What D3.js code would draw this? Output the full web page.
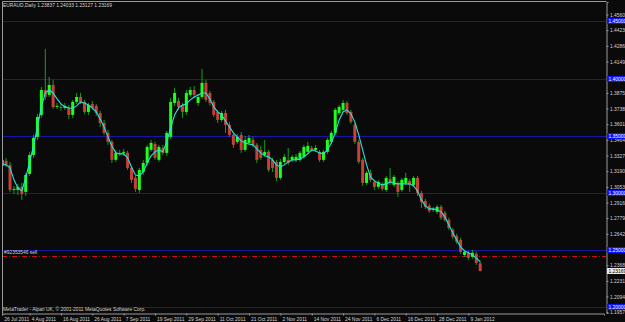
<!DOCTYPE html>
<html>
<head>
<meta charset="utf-8">
<script src="https://cdn.jsdelivr.net/npm/d3@7"></script>
<style>
  html, body { margin: 0; padding: 0; background: #0a0a0a; overflow: hidden; }
  svg { display: block; }
  text { font-family: "Liberation Sans", "DejaVu Sans", sans-serif; font-size: 4.9px; fill: #d4d4d4; }
</style>
</head>
<body>
<svg id="chart" width="625" height="322"></svg>
<script>
// EURAUD daily bars, 26 Jul 2011 .. 12 Jan 2012
var openP = [1.3236,1.3280,1.3245,1.3026,1.3026,1.3053,1.3009,1.3166,1.3332,1.3490,
  1.3682,1.3900,1.3857,1.3944,1.3752,1.3752,1.3743,1.3743,1.3682,1.3796,
  1.3839,1.3796,1.3708,1.3778,1.3761,1.3699,1.3612,1.3525,1.3446,1.3289,
  1.3350,1.3350,1.3350,1.3219,1.3131,1.3026,1.3184,1.3262,1.3376,1.3428,
  1.3289,1.3393,1.3350,1.3490,1.3787,1.3804,1.3769,1.3708,1.3857,1.3900,
  1.3787,1.3839,1.3962,1.3874,1.3796,1.3708,1.3638,1.3699,1.3595,1.3507,
  1.3446,1.3507,1.3376,1.3437,1.3463,1.3420,1.3376,1.3332,1.3359,1.3289,
  1.3271,1.3131,1.3271,1.3289,1.3289,1.3289,1.3289,1.3315,1.3359,1.3393,
  1.3376,1.3359,1.3289,1.3359,1.3446,1.3525,1.3699,1.3726,1.3787,1.3708,
  1.3595,1.3446,1.3289,1.3087,1.3175,1.3096,1.3053,1.3079,1.3026,1.3122,
  1.3070,1.3087,1.3026,1.3087,1.3105,1.3070,1.3131,1.3000,1.2930,1.2887,
  1.2852,1.2834,1.2878,1.2825,1.2764,1.2677,1.2624,1.2589,1.2458,1.2476,
  1.2441,1.2467,1.23837];
var highP = [1.3315,1.3306,1.3271,1.3061,1.3079,1.3087,1.3175,1.3359,1.3507,1.3691,
  1.3927,1.4259,1.4014,1.3988,1.3787,1.3778,1.3787,1.3769,1.3813,1.3874,
  1.3874,1.3813,1.3787,1.3804,1.3778,1.3717,1.3638,1.3551,1.3463,1.3376,
  1.3376,1.3385,1.3367,1.3236,1.3149,1.3219,1.3289,1.3420,1.3463,1.3446,
  1.3420,1.3420,1.3542,1.3830,1.3918,1.3830,1.3787,1.3900,1.3927,1.3935,
  1.3865,1.4084,1.3988,1.3892,1.3813,1.3726,1.3717,1.3726,1.3621,1.3525,
  1.3516,1.3533,1.3498,1.3507,1.3490,1.3437,1.3411,1.3463,1.3376,1.3306,
  1.3289,1.3297,1.3341,1.3393,1.3332,1.3341,1.3367,1.3420,1.3446,1.3411,
  1.3420,1.3376,1.3376,1.3481,1.3542,1.3743,1.3769,1.3813,1.3804,1.3726,
  1.3612,1.3463,1.3306,1.3192,1.3201,1.3114,1.3114,1.3096,1.3149,1.3219,
  1.3157,1.3105,1.3131,1.3175,1.3122,1.3149,1.3149,1.3018,1.2948,1.2904,
  1.2878,1.2895,1.2895,1.2843,1.2782,1.2694,1.2642,1.2607,1.2502,1.2493,
  1.2502,1.2485,1.24033];
var lowP = [1.3219,1.3227,1.3009,1.2991,1.2983,1.2939,1.2974,1.3149,1.3306,1.3463,
  1.3656,1.3813,1.3839,1.3734,1.3734,1.3717,1.3726,1.3647,1.3656,1.3778,
  1.3778,1.3691,1.3682,1.3726,1.3673,1.3577,1.3507,1.3420,1.3262,1.3271,
  1.3324,1.3324,1.3201,1.3087,1.3009,1.3000,1.3157,1.3236,1.3359,1.3289,
  1.3271,1.3332,1.3324,1.3472,1.3761,1.3726,1.3656,1.3682,1.3839,1.3830,
  1.3761,1.3822,1.3796,1.3761,1.3664,1.3612,1.3621,1.3525,1.3490,1.3393,
  1.3428,1.3350,1.3359,1.3420,1.3402,1.3262,1.3289,1.3315,1.3184,1.3184,
  1.3105,1.3114,1.3254,1.3245,1.3271,1.3271,1.3271,1.3297,1.3341,1.3359,
  1.3359,1.3271,1.3271,1.3341,1.3428,1.3507,1.3682,1.3708,1.3682,1.3603,
  1.3428,1.3254,1.3061,1.3070,1.3096,1.3026,1.3035,1.3018,1.3009,1.3070,
  1.3053,1.2965,1.3009,1.3070,1.3009,1.3053,1.2974,1.2869,1.2860,1.2825,
  1.2834,1.2817,1.2764,1.2747,1.2677,1.2598,1.2554,1.2467,1.2441,1.2415,
  1.2423,1.2371,1.23127];
var closeP = [1.3289,1.3245,1.3026,1.3035,1.3053,1.2991,1.3157,1.3332,1.3481,1.3664,
  1.3900,1.3839,1.3944,1.3752,1.3761,1.3743,1.3761,1.3682,1.3796,1.3839,
  1.3796,1.3708,1.3769,1.3743,1.3699,1.3612,1.3525,1.3446,1.3289,1.3350,
  1.3346,1.3359,1.3219,1.3114,1.3035,1.3201,1.3262,1.3402,1.3437,1.3306,
  1.3402,1.3350,1.3525,1.3796,1.3874,1.3752,1.3708,1.3874,1.3900,1.3857,
  1.3839,1.3962,1.3813,1.3787,1.3682,1.3638,1.3699,1.3595,1.3507,1.3420,
  1.3490,1.3376,1.3463,1.3481,1.3420,1.3289,1.3306,1.3359,1.3201,1.3219,
  1.3131,1.3271,1.3315,1.3262,1.3315,1.3315,1.3350,1.3402,1.3411,1.3376,
  1.3393,1.3289,1.3359,1.3463,1.3525,1.3726,1.3752,1.3787,1.3699,1.3621,
  1.3446,1.3271,1.3087,1.3175,1.3114,1.3053,1.3096,1.3035,1.3131,1.3087,
  1.3140,1.3009,1.3114,1.3131,1.3070,1.3131,1.3000,1.2922,1.2878,1.2843,
  1.2860,1.2878,1.2782,1.2764,1.2694,1.2616,1.2572,1.2485,1.2485,1.2432,
  1.2476,1.2388,1.23169];
// cyan moving average as drawn on the chart
var maLine = [1.3254,1.3245,1.3219,1.3114,1.3044,1.3018,1.3131,1.3271,1.3411,1.3577,
  1.3752,1.3874,1.3900,1.3874,1.3822,1.3778,1.3752,1.3743,1.3743,1.3761,
  1.3796,1.3787,1.3769,1.3743,1.3708,1.3647,1.3577,1.3490,1.3411,1.3350,
  1.3341,1.3341,1.3306,1.3227,1.3157,1.3149,1.3184,1.3262,1.3324,1.3359,
  1.3376,1.3359,1.3446,1.3568,1.3682,1.3743,1.3769,1.3778,1.3813,1.3839,
  1.3857,1.3874,1.3874,1.3822,1.3752,1.3708,1.3682,1.3629,1.3577,1.3525,
  1.3490,1.3455,1.3437,1.3428,1.3420,1.3385,1.3350,1.3324,1.3315,1.3289,
  1.3245,1.3227,1.3245,1.3271,1.3289,1.3289,1.3297,1.3315,1.3341,1.3376,
  1.3367,1.3350,1.3341,1.3376,1.3437,1.3525,1.3638,1.3708,1.3726,1.3691,
  1.3621,1.3507,1.3376,1.3245,1.3140,1.3105,1.3087,1.3070,1.3079,1.3096,
  1.3087,1.3079,1.3079,1.3079,1.3079,1.3061,1.3018,1.2939,1.2887,1.2860,
  1.2860,1.2852,1.2834,1.2790,1.2720,1.2651,1.2589,1.2528,1.2493,1.2476,
  1.2458,1.2432,1.2397];

var symbol = 'EURAUD,Daily';
var levels = [1.45, 1.40, 1.35, 1.30, 1.25, 1.20];
var orderPrice = 1.2447;
var orderLabel = '#92353546 sell';
var yTicks = [1.45600,1.44230,1.42860,1.41490,1.40120,1.38750,1.37380,1.36010,1.34640,1.33270,
  1.31900,1.30530,1.29160,1.27790,1.26420,1.25050,1.23680,1.22310,1.20940,1.19570];
var xTickBars = [0, 7, 15, 23, 31, 39, 47, 55, 63, 71, 79, 87, 95, 103, 111, 119];
var xTickLabels = ['26 Jul 2011','4 Aug 2011','16 Aug 2011','26 Aug 2011','7 Sep 2011','19 Sep 2011',
  '29 Sep 2011','11 Oct 2011','21 Oct 2011','2 Nov 2011','14 Nov 2011','24 Nov 2011',
  '6 Dec 2011','16 Dec 2011','28 Dec 2011','9 Jan 2012'];
var copyright = 'MetaTrader - Alpari UK, \u00a9 2001-2011 MetaQuotes Software Corp.';

var _box = {left: 2, right: 606, top: 1, bottom: 313};
var _font = '"Liberation Sans", "DejaVu Sans", sans-serif';
var fmt = d3.format('.5f');

var x = d3.scaleLinear().domain([0, 153.6]).range([2.2, 604]);
var y = d3.scaleLinear().domain([1.19498, 1.46693]).range([313, 2]);

var svg = d3.select('#chart');

svg.append('rect').attr('width', 625).attr('height', 322).attr('fill', '#0a0a0a');

svg.append('clipPath').attr('id', 'plotclip')
  .append('rect')
  .attr('x', _box.left).attr('y', _box.top)
  .attr('width', _box.right - _box.left).attr('height', _box.bottom - _box.top);

var body = svg.append('g').attr('clip-path', 'url(#plotclip)');

// round price levels
body.selectAll('line.level')
  .data(levels)
  .enter().append('line')
    .attr('class', 'level')
    .attr('x1', _box.left).attr('x2', _box.right)
    .attr('y1', function (d) { return Math.round(y(d)) + 0.5; })
    .attr('y2', function (d) { return Math.round(y(d)) + 0.5; })
    .attr('stroke', '#1616a6').attr('stroke-width', 1);

// open order line
body.append('line')
  .attr('x1', _box.left).attr('x2', _box.right)
  .attr('y1', Math.round(y(orderPrice)) + 0.5)
  .attr('y2', Math.round(y(orderPrice)) + 0.5)
  .attr('stroke', '#c41010').attr('stroke-width', 1)
  .attr('stroke-dasharray', '5,2,1,2');

body.append('text')
  .attr('x', 4).attr('y', y(orderPrice) - 1.8)
  .text(orderLabel);

// candles
var bars = d3.range(closeP.length);
var candle = body.selectAll('g.candle')
  .data(bars)
  .enter().append('g')
    .attr('class', 'candle');

candle.append('line')
  .attr('x1', function (i) { return x(i); })
  .attr('x2', function (i) { return x(i); })
  .attr('y1', function (i) { return y(highP[i]); })
  .attr('y2', function (i) { return y(lowP[i]); })
  .attr('stroke', '#14a014').attr('stroke-width', 1);

candle.append('rect')
  .attr('x', function (i) { return x(i) - 1.5; })
  .attr('width', 3)
  .attr('y', function (i) { return y(Math.max(openP[i], closeP[i])); })
  .attr('height', function (i) {
    return Math.max(1, Math.abs(y(openP[i]) - y(closeP[i])));
  })
  .attr('fill', function (i) { return closeP[i] >= openP[i] ? '#1eff1e' : '#c8403a'; });

// moving average
body.append('path')
  .datum(maLine)
  .attr('fill', 'none')
  .attr('stroke', '#22e2e2')
  .attr('stroke-width', 1.1)
  .attr('d', d3.line()
    .x(function (d, i) { return x(i); })
    .y(function (d) { return y(d); }));

// title and copyright
svg.append('text')
  .attr('x', 3).attr('y', 7)
  .text(symbol + '  ' + fmt(openP[openP.length - 1]) + ' ' + fmt(highP[highP.length - 1]) + ' ' +
    fmt(lowP[lowP.length - 1]) + ' ' + fmt(closeP[closeP.length - 1]));

svg.append('text')
  .attr('x', 3).attr('y', 310.5)
  .text(copyright);

// frame
svg.append('path')
  .attr('d', 'M' + (_box.left + 0.5) + ',' + (_box.bottom + 0.5) + 'V' + (_box.top + 0.5) + 'H' + (_box.right + 0.5))
  .attr('fill', 'none').attr('stroke', '#9a9a9a');

// price axis; labels hidden under a level box are left out, as on the terminal
var shownTicks = yTicks.filter(function (t) {
  return levels.every(function (l) { return Math.abs(y(t) - y(l)) > 3.5; });
});

var yAxis = d3.axisRight(y)
  .tickValues(shownTicks)
  .tickFormat(fmt)
  .tickSize(2)
  .tickPadding(1.5);

var yAxisG = svg.append('g')
  .attr('transform', 'translate(' + (_box.right + 0.5) + ',0)')
  .call(yAxis);
yAxisG.select('.domain').attr('stroke', '#9a9a9a');
yAxisG.selectAll('.tick line').attr('stroke', '#9a9a9a');
yAxisG.selectAll('.tick text').attr('fill', '#d4d4d4').attr('font-size', '4.9px')
  .attr('font-family', _font);

// level boxes on the axis
var lvBox = svg.selectAll('g.lvbox')
  .data(levels)
  .enter().append('g')
    .attr('class', 'lvbox')
    .attr('transform', function (d) { return 'translate(' + (_box.right + 1) + ',' + Math.round(y(d)) + ')'; });
lvBox.append('rect')
  .attr('x', 0).attr('y', -3).attr('width', 19).attr('height', 6)
  .attr('fill', '#0a14ff');
lvBox.append('text')
  .attr('x', 1.5).attr('y', 1.8)
  .style('fill', '#ffffff')
  .text(function (d) { return fmt(d); });

// current price box
var last = closeP[closeP.length - 1];
var cur = svg.append('g')
  .attr('transform', 'translate(' + (_box.right + 1) + ',' + Math.round(y(last)) + ')');
cur.append('rect')
  .attr('x', 0).attr('y', -3).attr('width', 19).attr('height', 6)
  .attr('fill', '#e8e8e8');
cur.append('text')
  .attr('x', 1.5).attr('y', 1.8)
  .style('fill', '#000000')
  .text(fmt(last));

// time axis
var xAxis = d3.axisBottom(x)
  .tickValues(xTickBars)
  .tickFormat(function (d, i) { return xTickLabels[i]; })
  .tickSize(2)
  .tickPadding(2.5);

var xAxisG = svg.append('g')
  .attr('transform', 'translate(0,' + (_box.bottom + 0.5) + ')')
  .call(xAxis);
xAxisG.select('.domain').attr('stroke', '#9a9a9a');
xAxisG.selectAll('.tick line').attr('stroke', '#9a9a9a');
xAxisG.selectAll('.tick text')
  .attr('text-anchor', 'start')
  .attr('dx', 1.5)
  .attr('fill', '#d4d4d4').attr('font-size', '4.9px')
  .attr('font-family', _font);
</script>
</body>
</html>
